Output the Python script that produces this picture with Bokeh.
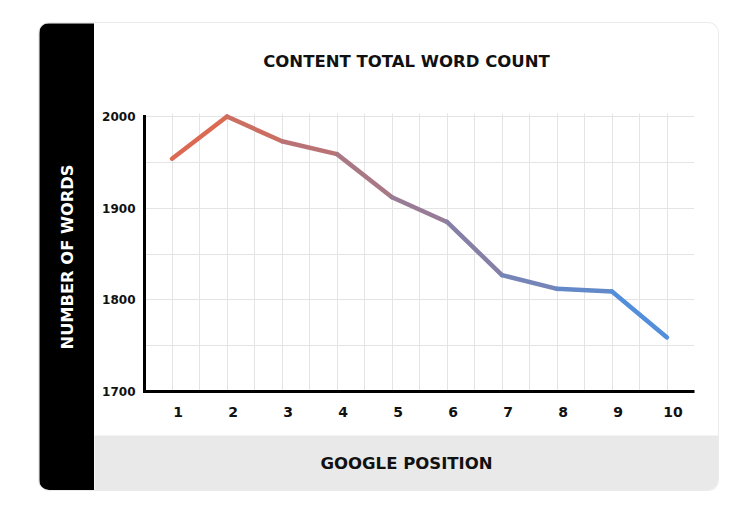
from bokeh.plotting import figure
from bokeh.layouts import row, column
from bokeh.models import FixedTicker, ColumnDataSource, Range1d, LinearAxis, Grid
from bokeh.embed import file_html
from bokeh.resources import INLINE
import math

# ---- data ----
positions = [1, 2, 3, 4, 5, 6, 7, 8, 9, 10]
words = [1954, 2000, 1973, 1959, 1912, 1885, 1827, 1812, 1809, 1759]
y_ticks = [1700, 1800, 1900, 2000]
y_grid = [1700, 1750, 1800, 1850, 1900, 1950, 2000]
x_grid = [0.5, 1, 1.5, 2, 2.5, 3, 3.5, 4, 4.5, 5, 5.5, 6, 6.5, 7, 7.5, 8, 8.5, 9, 9.5, 10, 10.5]

title_text = "CONTENT TOTAL WORD COUNT"
y_title = "NUMBER OF WORDS"
x_title = "GOOGLE POSITION"

FONT = "DejaVu Sans"
START = (229, 104, 74)
END = (74, 144, 226)
LABEL_SHIFT = 0.11  # tick labels sit slightly right of their points in the original


def lerp(t):
    c = [round(a + (b - a) * t) for a, b in zip(START, END)]
    return "#%02x%02x%02x" % tuple(c)


n = len(positions)
xs = [[positions[i], positions[i + 1]] for i in range(n - 1)]
ys = [[words[i], words[i + 1]] for i in range(n - 1)]
cols = [lerp((i + 0.5) / (n - 1)) for i in range(n - 1)]
src = ColumnDataSource(dict(xs=xs, ys=ys, color=cols))


def band(width, height, color):
    f = figure(width=width, height=height, output_backend="svg", toolbar_location=None,
               x_range=Range1d(0, 1), y_range=Range1d(0, 1), min_border=0, frame_align=False)
    f.axis.visible = False
    f.grid.visible = False
    f.outline_line_color = None
    f.background_fill_color = color
    f.border_fill_color = color
    return f


# ---- title strip ----
top = band(624, 60, "white")
top.text(x=[0.5], y=[0.37], text=[title_text],
         text_align="center", text_baseline="middle", text_color="#111111",
         text_font={"value": FONT}, text_font_style="bold", text_font_size="16.5px")

# ---- main chart ----
p = figure(width=624, height=352, output_backend="svg", toolbar_location=None,
           x_range=Range1d(0.5, 10.5), y_range=Range1d(1700, 2003.3),
           x_axis_location=None,
           min_border_left=50, min_border_right=24, min_border_top=30, min_border_bottom=44,
           frame_align=False)
p.outline_line_color = None
p.background_fill_color = "white"
p.border_fill_color = "white"
p.extra_x_ranges = {"lab": Range1d(0.5 - LABEL_SHIFT, 10.5 - LABEL_SHIFT)}

xgrid = Grid(dimension=0, ticker=FixedTicker(ticks=x_grid),
             grid_line_color="#e4e4e4", grid_line_width=1)
p.add_layout(xgrid)
p.ygrid.ticker = FixedTicker(ticks=y_grid)
p.ygrid.grid_line_color = "#e4e4e4"
p.ygrid.grid_line_width = 1

p.multi_line(xs="xs", ys="ys", line_color="color", line_width=4.5,
             line_cap="round", line_join="round", source=src)

xaxis = LinearAxis(x_range_name="lab", ticker=FixedTicker(ticks=positions))
p.add_layout(xaxis, "below")

for ax in (xaxis, p.yaxis[0]):
    ax.axis_line_width = 3
    ax.axis_line_color = "black"
    ax.major_tick_line_color = None
    ax.minor_tick_line_color = None
    ax.major_tick_out = 0
    ax.major_tick_in = 0
    ax.minor_tick_out = 0
    ax.minor_tick_in = 0
    ax.major_label_text_font = FONT
    ax.major_label_text_font_style = "bold"
    ax.major_label_text_color = "#111111"

xaxis.major_label_text_font_size = "14px"
xaxis.major_label_standoff = 15

p.yaxis.ticker = FixedTicker(ticks=y_ticks)
p.yaxis.bounds = (1700, 2000)
p.yaxis.axis_line_cap = "square"
p.yaxis.major_label_text_font_size = "12px"
p.yaxis.major_label_standoff = 9

# ---- left black band with y title ----
left = band(55, 467, "black")
left.text(x=[0.5], y=[0.5], text=[y_title], angle=math.pi / 2,
          text_align="center", text_baseline="middle", text_color="white",
          text_font={"value": FONT}, text_font_style="bold", text_font_size="16.3px")

# ---- bottom gray band with x title ----
bottom = band(624, 55, "#e9e9e9")
bottom.text(x=[0.5], y=[0.5], text=[x_title],
            text_align="center", text_baseline="middle", text_color="#111111",
            text_font={"value": FONT}, text_font_style="bold", text_font_size="16.5px")

layout = row(left, column(top, p, bottom, spacing=0), spacing=0, margin=(23, 0, 0, 39),
             styles={"border-radius": "10px", "overflow": "hidden",
                     "box-shadow": "0 0 0 1px #ececec"})

open("out.html", "w").write(file_html(layout, INLINE))
